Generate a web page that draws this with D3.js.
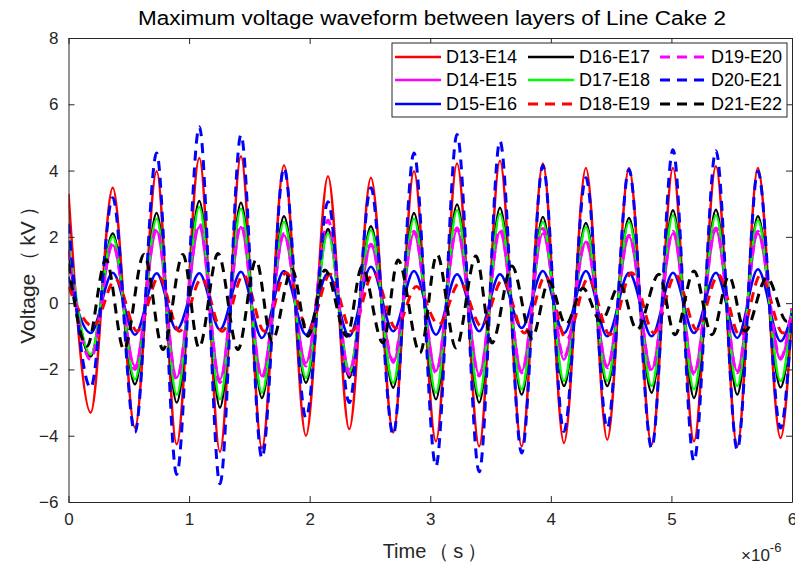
<!DOCTYPE html>
<html>
<head>
<meta charset="utf-8">
<script src="https://cdn.jsdelivr.net/npm/d3@7/dist/d3.min.js"></script>
<style>
  body { margin: 0; background: #fff; }
  text { font-family: "Liberation Sans", Arial, sans-serif; }
</style>
</head>
<body>
<div class="canva"></div>
<script>
// times (us) of peaks / troughs for the in-phase group
var tMain = [0, 0.184, 0.367, 0.551, 0.731, 0.897, 1.085, 1.256, 1.430, 1.604, 1.787, 1.969, 2.152, 2.328, 2.508, 2.693,
             2.865, 3.047, 3.222, 3.406, 3.578, 3.758, 3.934, 4.109, 4.291, 4.468, 4.648, 4.836, 5.013, 5.187, 5.369, 5.546,
             5.717, 5.905, 6.0];
var tRed2 = [0, 0.205, 0.39, 0.57, 0.75, 0.92, 1.105, 1.275, 1.45, 1.625, 1.805, 1.99, 2.17, 2.35, 2.53, 2.715,
             2.885, 3.07, 3.245, 3.425, 3.6, 3.78, 3.955, 4.13, 4.31, 4.49, 4.67, 4.855, 5.035, 5.21, 5.39, 5.57,
             5.74, 5.925, 6.0];
var tBlack2 = [0, 0.153, 0.311, 0.460, 0.626, 0.784, 0.949, 1.082, 1.240, 1.405, 1.555, 1.687, 1.853, 1.986, 2.127, 2.309,
               2.433, 2.608, 2.733, 2.915, 3.056, 3.213, 3.379, 3.512, 3.677, 3.843, 3.984, 4.125, 4.266, 4.415, 4.573,
               4.714, 4.897, 5.029, 5.187, 5.336, 5.477, 5.610, 5.792, 5.958, 6.0];

var d13e14 = [3.3, -3.3, 3.48, -3.76, 3.98, -4.26, 4.38, -4.49, 4.43, -4.37, 4.16, -4.0, 3.83, -3.8, 3.78, -3.9, 3.98, -4.17,
              4.21, -4.32, 4.3, -4.32, 4.21, -4.22, 4.08, -4.12, 4.08, -4.27, 4.08, -4.17, 4.13, -4.32, 4.08, -4.07, -0.3];
var d14e15 = [1.7, -1.6, 1.75, -1.9, 2.17, -2.25, 2.3, -2.3, 2.3, -2.2, 2.05, -1.8, 2.2, -2.0, 1.75, -1.8, 2.1, -2.05,
              2.2, -2.15, 2.15, -2.05, 2.1, -1.7, 1.85, -1.9, 2.0, -2.0, 2.1, -2.1, 2.2, -2.05, 2.1, -1.7, -0.15];
var d15e16 = [0.8, -0.9, 0.92, -0.95, 0.9, -0.8, 0.9, -0.8, 0.95, -1.05, 0.97, -0.95, 0.9, -1.0, 1.1, -0.85, 0.97, -0.95,
              0.87, -0.85, 0.87, -0.75, 0.97, -0.9, 0.97, -1.0, 0.92, -1.0, 0.92, -0.9, 0.92, -1.05, 1.02, -1.15, -0.3];
var d16e17 = [1.6, -1.6, 2.1, -2.45, 2.72, -3.0, 3.08, -3.15, 3.03, -2.86, 2.62, -2.4, 2.24, -2.25, 2.32, -2.55, 2.72, -2.9,
              2.98, -3.0, 2.88, -2.76, 2.6, -2.5, 2.42, -2.5, 2.57, -2.7, 2.8, -2.86, 2.82, -2.76, 2.62, -2.54, -0.2];
var d17e18 = [1.9, -1.55, 2.0, -2.3, 2.55, -2.76, 2.9, -2.9, 2.85, -2.7, 2.45, -2.25, 2.1, -2.1, 2.2, -2.4, 2.55, -2.7,
              2.8, -2.8, 2.7, -2.6, 2.45, -2.35, 2.3, -2.35, 2.45, -2.5, 2.65, -2.6, 2.65, -2.5, 2.5, -2.35, -0.2];
var d18e19 = [0.5, -0.7, 0.72, -0.85, 0.8, -0.85, 0.75, -0.85, 0.85, -0.85, 0.92, -0.8, 0.87, -0.85, 0.92, -0.75, 0.5, -0.65,
              0.62, -0.7, 0.7, -0.9, 0.82, -1.1, 0.75, -0.95, 0.92, -0.9, 0.85, -0.8, 0.85, -1.0, 0.85, -0.9, -0.5];
var d19e20 = [1.6, -1.7, 1.8, -2.0, 2.25, -2.3, 2.4, -2.4, 2.35, -2.25, 2.1, -1.9, 2.5, -2.15, 1.78, -1.75, 2.17, -2.1,
              2.27, -2.2, 2.23, -2.1, 2.25, -1.65, 1.87, -1.95, 2.05, -2.05, 2.17, -2.15, 2.27, -2.1, 2.17, -1.65, -0.15];
var d20e21 = [2.4, -2.55, 3.18, -3.9, 4.53, -5.17, 5.32, -5.45, 5.07, -4.67, 4.08, -3.46, 3.06, -3.0, 3.48, -3.97, 4.53, -4.92,
              5.09, -5.09, 4.89, -4.52, 4.15, -3.87, 3.78, -3.77, 4.03, -4.37, 4.63, -4.77, 4.6, -4.42, 3.98, -3.77, -0.3];
var d21e22 = [1.2, -1.3, 1.32, -1.4, 1.47, -1.4, 1.47, -1.35, 1.5, -1.4, 1.3, -1.15, 1.02, -1.0, 1.0, -1.0, 1.1, -1.2,
              1.3, -1.5, 1.47, -1.35, 1.42, -1.2, 1.12, -1.05, 0.66, -0.64, 0.45, -0.55, 0.55, -0.8, 0.87, -0.95, 0.97,
              -0.95, 0.82, -0.85, 0.77, -0.55, -0.4];

var names = ['D13-E14','D14-E15','D15-E16','D16-E17','D17-E18','D18-E19','D19-E20','D20-E21','D21-E22'];
var xTicks = [0, 1, 2, 3, 4, 5, 6];
var yTicks = [-6, -4, -2, 0, 2, 4, 6, 8];

var series = [
  {name: names[0], t: tMain, v: d13e14, color: '#ff0000', dash: null},
  {name: names[1], t: tMain, v: d14e15, color: '#ff00ff', dash: null},
  {name: names[2], t: tMain, v: d15e16, color: '#0000ff', dash: null},
  {name: names[3], t: tMain, v: d16e17, color: '#000000', dash: null},
  {name: names[4], t: tMain, v: d17e18, color: '#00ff00', dash: null},
  {name: names[5], t: tRed2, v: d18e19, color: '#ff0000', dash: '10,7'},
  {name: names[6], t: tMain, v: d19e20, color: '#ff00ff', dash: '10,7'},
  {name: names[7], t: tMain, v: d20e21, color: '#0000ff', dash: '10,7'},
  {name: names[8], t: tBlack2, v: d21e22, color: '#000000', dash: '10,7'}
];

const svg = d3.select('.canva').append('svg')
              .attr('width', 795)
              .attr('height', 565)

const axL = 68.5, axR = 792, axT = 38, axB = 502;

var x = d3.scaleLinear().domain([0, 6]).range([axL, axR]);
var y = d3.scaleLinear().domain([-6, 8]).range([axB, axT]);

svg.append('clipPath').attr('id', 'clip')
   .append('rect').attr('x', axL).attr('y', axT)
   .attr('width', axR - axL).attr('height', axB - axT);

var line = d3.line()
             .x(d => x(d[0]))
             .y(d => y(d[1]))
             .curve(d3.curveMonotoneX)

var plot = svg.append('g').attr('clip-path', 'url(#clip)');

series.forEach(s => {
  plot.append('path')
      .datum(s.t.map((t, i) => [t, s.v[i]]))
      .attr('fill', 'none')
      .attr('stroke', s.color)
      .attr('stroke-width', s.dash ? 3 : 2.5)
      .attr('stroke-dasharray', s.dash)
      .attr('d', line)
})

//axes
var axisColor = '#262626';
var xAxis = d3.axisBottom(x).tickValues(xTicks).tickFormat(d3.format('d')).tickSizeInner(-6).tickSizeOuter(0).tickPadding(11);
var xAxisTop = d3.axisTop(x).tickValues(xTicks).tickFormat('').tickSizeInner(-6).tickSizeOuter(0);
var yAxis = d3.axisLeft(y).tickValues(yTicks).tickSizeInner(-6).tickSizeOuter(0).tickPadding(10);
var yAxisRight = d3.axisRight(y).tickValues(yTicks).tickFormat('').tickSizeInner(-6).tickSizeOuter(0);

function styleAxis(g) {
  g.selectAll('path, line').attr('stroke', axisColor);
  g.selectAll('text').attr('fill', axisColor).style('font-size', '17px')
   .style('font-family', '"Liberation Sans", Arial, sans-serif');
}

svg.append('g').attr('transform', `translate(0,${axB})`).call(xAxis).call(styleAxis);
svg.append('g').attr('transform', `translate(0,${axT})`).call(xAxisTop).call(styleAxis);
svg.append('g').attr('transform', `translate(${axL},0)`).call(yAxis).call(styleAxis);
svg.append('g').attr('transform', `translate(${axR},0)`).call(yAxisRight).call(styleAxis);

//labels
svg.append('text').attr('x', 432).attr('y', 25)
   .attr('text-anchor', 'middle').style('font-size', '20px').attr('fill', '#000')
   .attr('textLength', 588).attr('lengthAdjust', 'spacingAndGlyphs')
   .text('Maximum voltage waveform between layers of Line Cake 2');

var xl = svg.append('text').attr('x', 435).attr('y', 558)
   .attr('text-anchor', 'middle').style('font-size', '20px').attr('fill', axisColor);
xl.append('tspan').text('Time');
xl.append('tspan').attr('dx', 3).text('（');
xl.append('tspan').attr('dx', 4).text('s');
xl.append('tspan').attr('dx', 4).text('）');

var yl = svg.append('text').attr('transform', `translate(35,${(axT + axB) / 2}) rotate(-90)`)
   .attr('text-anchor', 'middle').style('font-size', '21px').attr('fill', axisColor);
yl.append('tspan').text('Voltage');
yl.append('tspan').attr('dx', 3).text('（');
yl.append('tspan').attr('dx', 4).text('kV');
yl.append('tspan').attr('dx', 4).text('）');

var expo = svg.append('text').attr('x', 741).attr('y', 561).attr('fill', axisColor).style('font-size', '17px');
expo.append('tspan').text('×10');
expo.append('tspan').attr('dy', -9).style('font-size', '13px').text('-6');

//legend
var legend = svg.append('g');
legend.append('rect').attr('x', 392).attr('y', 43).attr('width', 395).attr('height', 74)
      .attr('fill', '#fff').attr('stroke', axisColor).attr('stroke-width', 1);

var colX = [395, 528, 660], rowY = [57, 80, 104];
series.forEach((s, i) => {
  var cx = colX[Math.floor(i / 3)], cy = rowY[i % 3];
  legend.append('line').attr('x1', cx).attr('x2', cx + 46).attr('y1', cy).attr('y2', cy)
        .attr('stroke', s.color).attr('stroke-width', s.dash ? 3 : 2.5)
        .attr('stroke-dasharray', s.dash);
  legend.append('text').attr('x', cx + 51).attr('y', cy + 6).style('font-size', '18px')
        .attr('fill', '#000').text(s.name);
})
</script>
</body>
</html>
